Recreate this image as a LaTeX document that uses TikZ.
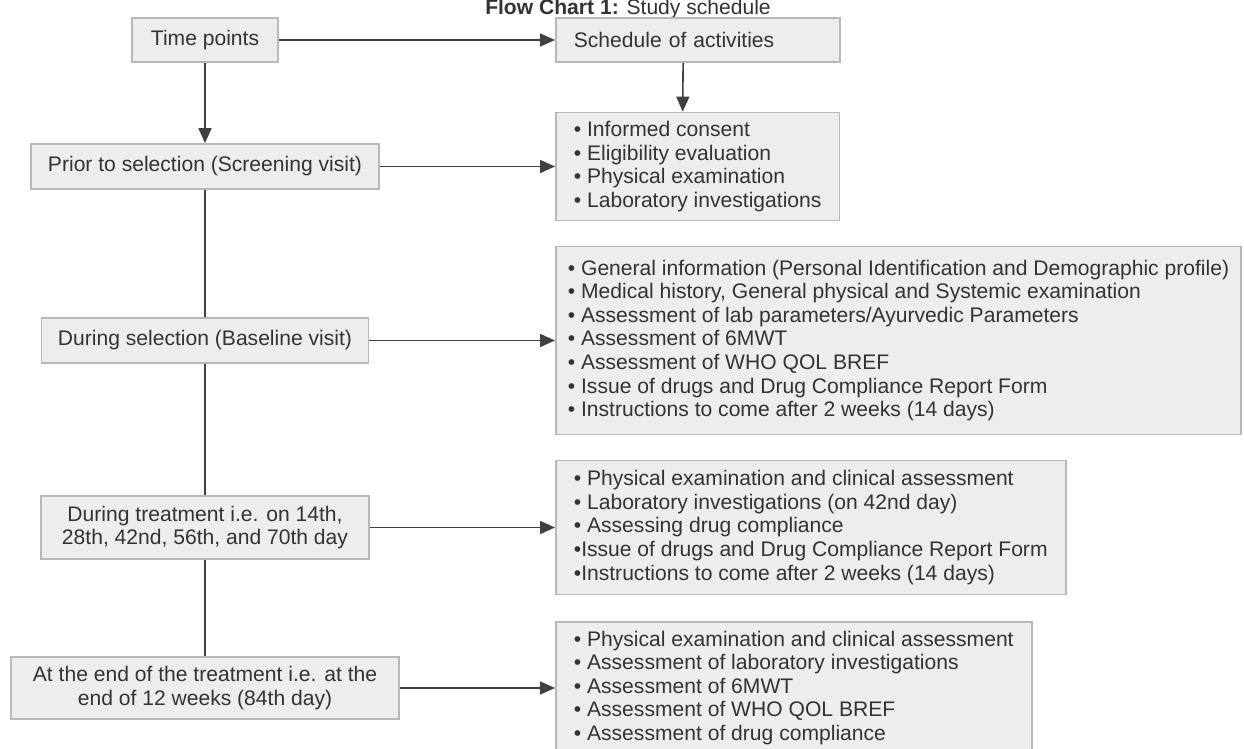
\documentclass[tikz,border=0pt]{standalone}
\usepackage{fontspec}
\setmainfont{Liberation Sans}
\usetikzlibrary{arrows.meta}

\begin{document}
\begin{tikzpicture}[
    x=0.02cm, y=-0.02cm,
    every node/.style={text=black!80, font=\fontsize{12}{13.4}\selectfont},
    timebox/.style={draw=black!28, line width=1pt, fill=black!7, align=center, inner sep=0pt},
    actbox/.style={draw=black!28, line width=1pt, fill=black!7, align=left, anchor=west, inner xsep=0.36cm, inner ysep=0pt},
    link/.style={draw=black!75, line width=0.9pt},
    arr/.style={link, -{Triangle[length=0.3cm,width=0.26cm]}}
    ]

    \useasboundingbox (0,0) rectangle (1244,749);
    \fill[white] (0,0) rectangle (1244,749);

    \node[anchor=base] (title) at (628,15) {\textbf{Flow Chart 1:} Study schedule};

    % time points (left column)
    \node[timebox, minimum width=2.92cm, minimum height=0.88cm] (time) at (205,40) {Time points};
    \node[timebox, minimum width=6.96cm, minimum height=0.9cm] (prior) at (205,166.5) {Prior to selection (Screening visit)};
    \node[timebox, minimum width=6.54cm, minimum height=0.9cm] (baseline) at (205,340.5) {During selection (Baseline visit)};
    \node[timebox, minimum width=6.56cm, minimum height=1.26cm] (treat) at (205,527.5) {During treatment i.e. on 14th,\\28th, 42nd, 56th, and 70th day};
    \node[timebox, minimum width=7.76cm, minimum height=1.24cm] (endtr) at (205,688) {At the end of the treatment i.e. at the\\end of 12 weeks (84th day)};

    % activities (right column)
    \node[actbox, text width=4.97cm, minimum height=0.88cm] (sched) at (555,40) {Schedule of activities};
    \node[actbox, minimum height=2.16cm] (screenact) at (555,166.5) {• Informed consent\\• Eligibility evaluation\\• Physical examination\\• Laboratory investigations};
    \node[actbox, inner xsep=0.24cm, minimum height=3.76cm] (baseact) at (555,340.5) {• General information (Personal Identification and Demographic profile)\\• Medical history, General physical and Systemic examination\\• Assessment of lab parameters/Ayurvedic Parameters\\• Assessment of 6MWT\\• Assessment of WHO QOL BREF\\• Issue of drugs and Drug Compliance Report Form\\• Instructions to come after 2 weeks (14 days)};
    \node[actbox, minimum height=2.68cm] (treatact) at (555,527.5) {• Physical examination and clinical assessment\\• Laboratory investigations (on 42nd day)\\• Assessing drug compliance\\•Issue of drugs and Drug Compliance Report Form\\•Instructions to come after 2 weeks (14 days)};
    \node[actbox, minimum height=2.64cm] (endact) at (555,688) {• Physical examination and clinical assessment\\• Assessment of laboratory investigations\\• Assessment of 6MWT\\• Assessment of WHO QOL BREF\\• Assessment of drug compliance};

    \path (time) edge[arr] (sched)
    (time) edge[arr] (prior)
    (prior) edge[arr] (screenact)
    (baseline) edge[arr] (baseact)
    (treat) edge[arr] (treatact)
    (endtr) edge[arr] (endact)
    ([xshift=-0.3cm]sched.south) edge[arr] ([xshift=-0.3cm]screenact.north)
    (prior) edge[link] (baseline)
    (baseline) edge[link] (treat)
    (treat) edge[link] (endtr)
    ;

\end{tikzpicture}
\end{document}
